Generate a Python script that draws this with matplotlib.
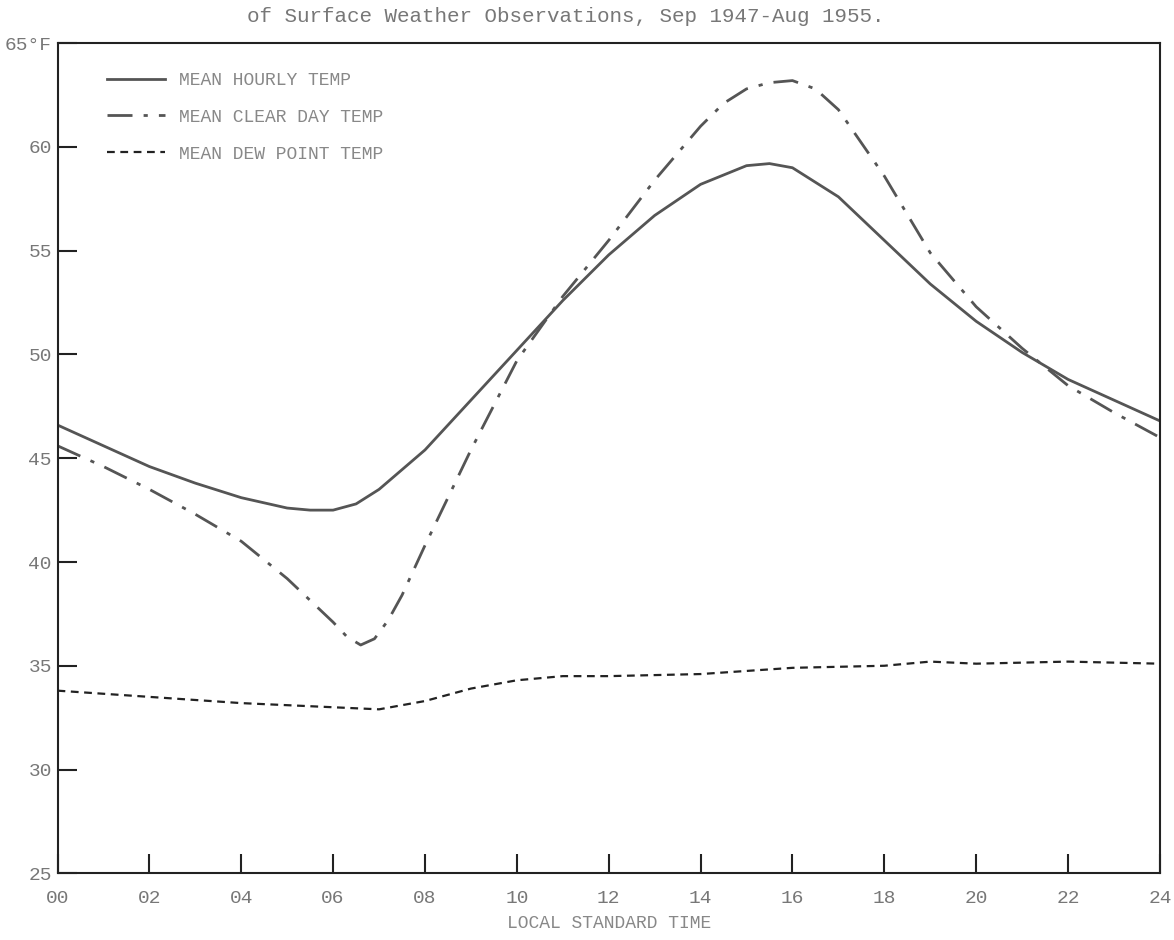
import numpy as np
import matplotlib.pyplot as plt

plt.rcParams['font.family'] = ['Liberation Mono', 'DejaVu Sans Mono']

# mean hourly temperature (deg F)
hours_mean = [0, 1, 2, 3, 4, 5, 5.5, 6, 6.5, 7, 8, 9, 10, 11, 12, 13, 14, 15, 15.5, 16, 17, 18, 19, 20, 21, 22, 23, 24]
temp_mean = [46.6, 45.6, 44.6, 43.8, 43.1, 42.6, 42.5, 42.5, 42.8, 43.5, 45.4, 47.8, 50.2, 52.6, 54.8, 56.7, 58.2, 59.1, 59.2, 59.0, 57.6, 55.5, 53.4, 51.6, 50.1, 48.8, 47.8, 46.8]

# mean clear day temperature
hours_clear = [0, 1, 2, 3, 4, 5, 6, 6.3, 6.6, 6.9, 7.2, 7.5, 8, 9, 10, 11, 12, 13, 14, 14.5, 15, 15.5, 16, 16.5, 17, 18, 19, 20, 21, 22, 23, 24]
temp_clear = [45.6, 44.6, 43.5, 42.3, 41.0, 39.2, 37.1, 36.4, 36.0, 36.3, 37.2, 38.4, 40.8, 45.4, 49.7, 52.8, 55.5, 58.4, 61.0, 62.1, 62.8, 63.1, 63.2, 62.8, 61.8, 58.6, 54.9, 52.3, 50.3, 48.5, 47.2, 46.0]

# mean dew point temperature
hours_dew = [0, 2, 4, 6, 7, 8, 9, 10, 11, 12, 14, 16, 18, 19, 20, 22, 24]
temp_dew = [33.8, 33.5, 33.2, 33.0, 32.9, 33.3, 33.9, 34.3, 34.5, 34.5, 34.6, 34.9, 35.0, 35.2, 35.1, 35.2, 35.1]

xticks = list(range(0, 25, 2))
xtick_labels = ['%02d' % h for h in xticks]
yticks = [25, 30, 35, 40, 45, 50, 55, 60, 65]
ytick_labels = ['25', '30', '35', '40', '45', '50', '55', '60', '65°F']

fig = plt.figure(figsize=(11.74, 9.4), dpi=100)
ax = fig.add_axes([0.049, 0.071, 0.939, 0.883])

ax.plot(hours_mean, temp_mean, color='#555555', lw=2.0, ls='-', label='MEAN HOURLY TEMP')
ax.plot(hours_clear, temp_clear, color='#555555', lw=2.0, ls=(0, (9, 4, 1.5, 4)), label='MEAN CLEAR DAY TEMP')
ax.plot(hours_dew, temp_dew, color='#222222', lw=1.6, ls=(0, (3.5, 2.5)), label='MEAN DEW POINT TEMP')

ax.set_xlim(0, 24)
ax.set_ylim(25, 65)
ax.set_xticks(xticks)
ax.set_xticklabels(xtick_labels)
ax.set_yticks(yticks)
ax.set_yticklabels(ytick_labels)
ax.tick_params(direction='in', length=14, width=1.5, colors='#222222',
               labelcolor='#777777', labelsize=14)
ax.tick_params(axis='y', pad=4)
ax.tick_params(axis='x', pad=12)
for s in ax.spines.values():
    s.set_linewidth(1.5)
    s.set_color('#222222')

ax.set_xlabel('LOCAL STANDARD TIME', fontsize=13, color='#888888', labelpad=6)

leg = ax.legend(loc='upper left', bbox_to_anchor=(0.03, 0.985), frameon=False,
                handlelength=3.2, labelspacing=1.1, fontsize=13)
for t in leg.get_texts():
    t.set_color('#888888')

fig.text(0.21, 0.982, 'of Surface Weather Observations, Sep 1947-Aug 1955.',
         fontsize=15, color='#777777', va='center', ha='left')

fig.savefig('out.png', dpi=100)
